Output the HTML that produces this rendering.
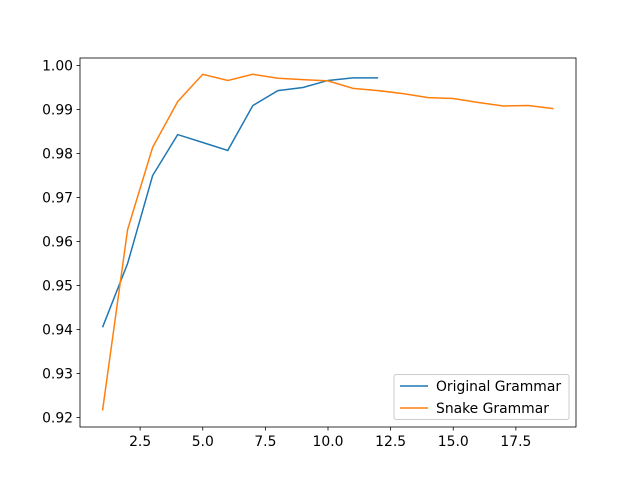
<!DOCTYPE html>
<html><head><meta charset="utf-8"><style>body{margin:0;background:#fff}svg{display:block;font-family:"DejaVu Sans","Liberation Sans",sans-serif}</style></head>
<body>
<svg id="chart" width="640" height="480"></svg>
<script>
const originalX=[1,2,3,4,5,6,7,8,9,10,11,12];
const originalY=[0.9405,0.955,0.975,0.9843,0.9825,0.9807,0.9909,0.9943,0.995,0.9966,0.9972,0.9972];
const snakeX=[1,2,3,4,5,6,7,8,9,10,11,12,13,14,15,16,17,18,19];
const snakeY=[0.9216,0.9627,0.9814,0.9918,0.998,0.9966,0.998,0.9971,0.9968,0.9965,0.9948,0.9943,0.9936,0.9927,0.9925,0.9916,0.9908,0.9909,0.9902];
const xTicks=[2.5,5.0,7.5,10.0,12.5,15.0,17.5];
const yTicks=[0.92,0.93,0.94,0.95,0.96,0.97,0.98,0.99,1.00];
const L=80,R=576,T=58,B=427;
const xs=v=>L+(v-0.1)/19.8*(R-L);
const ys=v=>65.5+(1.00-v)/0.01*44;
const NS="http://www.w3.org/2000/svg",svg=document.getElementById('chart');
function mk(t,a,p){const e=document.createElementNS(NS,t);for(const k in a)e.setAttribute(k,a[k]);(p||svg).appendChild(e);return e;}
const frame=mk('rect',{x:L,y:T,width:R-L,height:B-T,fill:'none',stroke:'#000','stroke-width':0.8});


xTicks.forEach(v=>{const x=xs(v);
 const tk=mk('line',{x1:x,x2:x,y1:B,y2:B+3.5,stroke:'#000','stroke-width':0.8});
 
 
 const t=mk('text',{x:x,y:B+19,'font-size':13.9,'text-anchor':'middle'});t.textContent=v.toFixed(1);
 
 });
yTicks.forEach(v=>{const y=ys(v);
 const tk=mk('line',{x1:L-3.5,x2:L,y1:y,y2:y,stroke:'#000','stroke-width':0.8});
 
 
 const t=mk('text',{x:L-7,y:y+5,'font-size':13.9,'text-anchor':'end'});t.textContent=v.toFixed(2);
 
 });
function series(X,Y,c,name){const p=mk('polyline',{points:X.map((x,i)=>xs(x)+','+ys(Y[i])).join(' '),fill:'none',stroke:c,'stroke-width':1.5});
 
 }
series(originalX,originalY,'#1f77b4','original-grammar-line');
series(snakeX,snakeY,'#ff7f0e','snake-grammar-line');
const lg=mk('g',{});


mk('rect',{x:394,y:374.5,width:175,height:45,rx:2,fill:'#fff','fill-opacity':0.8,stroke:'#ccc'},lg);
[['Original Grammar','#1f77b4',386],['Snake Grammar','#ff7f0e',408]].forEach(([n,c,y])=>{
 const g=mk('g',{},lg);
 
 
 mk('line',{x1:400,x2:428,y1:y,y2:y,stroke:c,'stroke-width':1.5},g);
 const t=mk('text',{x:436,y:y+5,'font-size':13.9},g);t.textContent=n;});
</script>
</body></html>
